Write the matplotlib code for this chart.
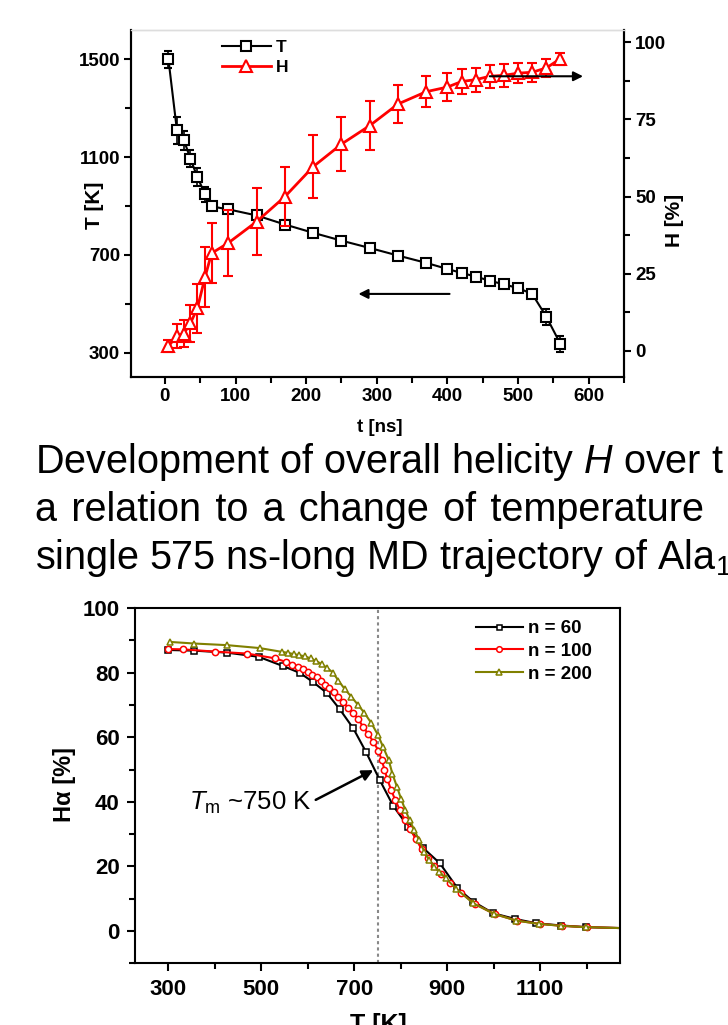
import matplotlib
matplotlib.use('Agg')
import matplotlib.pyplot as plt
from matplotlib.lines import Line2D
from matplotlib.ticker import MultipleLocator

plt.rcParams['font.family'] = ['Liberation Sans', 'DejaVu Sans']
plt.rcParams['font.weight'] = 'bold'
plt.rcParams['mathtext.fontset'] = 'custom'
plt.rcParams['mathtext.rm'] = 'Liberation Sans:weight=normal'
plt.rcParams['mathtext.it'] = 'Liberation Sans:style=italic:weight=normal'
plt.rcParams['mathtext.bf'] = 'Liberation Sans:weight=bold'

# ---- top panel: T and H along one trajectory
t_ns = [5, 17, 27, 36, 46, 57, 66, 90, 130, 170, 210, 250, 290, 330, 370,
        400, 420, 440, 460, 480, 500, 520, 540, 560]
temp_K = [1500, 1210, 1169, 1094, 1018, 947, 898, 886, 861, 824, 790, 758, 728,
          697, 667, 642, 626, 611, 594, 579, 564, 540, 447, 335]
temp_err = [36, 56, 39, 34, 36, 31, 16, 12, 12, 20, 10, 10, 10, 10, 10,
            10, 10, 10, 10, 10, 10, 10, 33, 31]
helix = [1.5, 4.8, 5.6, 8.9, 13.8, 24, 31.6, 35, 41.9, 50, 59.7, 67, 73, 80,
         84, 85.5, 87.3, 87.9, 89, 89.3, 90, 90.3, 91.7, 94.7]
helix_err = [2, 3.8, 4.4, 6, 8, 9.7, 9.7, 10.7, 11, 9.7, 10.3, 8.8, 7.9, 6.3,
             5, 4.5, 4.1, 3.9, 3.8, 3.8, 3.2, 3.1, 3, 1.9]

# ---- bottom panel: H alpha vs temperature
T60 = [300, 355, 425, 494, 547, 583, 611, 641, 669, 698, 725, 755, 784, 816,
       849, 884, 922, 956, 999, 1047, 1092, 1146, 1198, 1300]
H60 = [87.0, 86.8, 86.2, 84.9, 82.0, 79.9, 77.1, 73.7, 68.6, 62.7, 55.5, 46.7,
       38.7, 32.3, 25.6, 21.0, 13.3, 9.1, 5.5, 3.7, 2.4, 1.7, 1.2, 0.8]

T100 = [300, 331, 400, 469, 530, 553, 567, 578, 589, 600, 610, 619, 628, 637,
        646, 656, 666, 676, 687, 698, 709, 719, 730, 741, 752, 759, 765, 771,
        779, 788, 798, 809, 820, 832, 845, 858, 872, 887, 905, 930, 960, 1003,
        1050, 1100, 1147, 1200, 1300]
H100 = [87.3, 87.2, 86.5, 85.9, 84.4, 83.3, 82.5, 81.8, 81.0, 80.2, 79.4, 78.5,
        77.4, 76.3, 75.2, 74.0, 72.6, 70.9, 69.1, 67.4, 65.5, 63.2, 61.0, 58.6,
        55.8, 53.0, 50.0, 47.0, 43.8, 40.6, 37.5, 34.4, 31.6, 28.6, 25.4, 22.6,
        20.0, 17.6, 15.0, 11.8, 8.3, 5.2, 3.2, 2.2, 1.6, 1.2, 0.8]

T200 = [303, 356, 426, 496, 545, 558, 570, 582, 594, 606, 618, 630, 642, 654,
        666, 680, 694, 708, 722, 737, 751, 762, 774, 782, 792, 801, 810, 819,
        829, 839, 851, 861, 872, 883, 897, 920, 956, 1001, 1049, 1098, 1145,
        1198, 1300]
H200 = [89.5, 89.0, 88.5, 87.6, 86.4, 86.1, 85.7, 85.4, 85.0, 84.4, 83.6, 82.6,
        81.4, 80.0, 77.5, 74.8, 72.5, 70.0, 67.5, 64.3, 60.7, 57.0, 53.0, 48.7,
        44.6, 40.8, 37.4, 34.4, 31.3, 28.3, 24.5, 22.0, 19.9, 18.4, 16.3, 13.0,
        8.6, 5.3, 3.2, 2.2, 1.6, 1.2, 0.8]

W, HH = 728, 1025
def fx(x):
    return x / W
def fy(y):
    return 1 - y / HH

fig = plt.figure(figsize=(7.28, 10.25), dpi=100)

# ================= top chart
ax1 = fig.add_axes([fx(131), fy(377), (624 - 131) / W, (377 - 30) / HH])
ax2 = ax1.twinx()

ax1.errorbar(t_ns, temp_K, yerr=temp_err, color='k', marker='s', ms=6.5,
             mfc='white', mec='k', mew=1.5, lw=1.5, capsize=3,
             elinewidth=1.2, capthick=1.2)
ax2.errorbar(t_ns, helix, yerr=helix_err, color='red', marker='^', ms=8.5,
             mfc='white', mec='red', mew=1.5, lw=2, capsize=3.5,
             elinewidth=1.5, capthick=1.5)

ax1.set_xlim(-48, 650)
ax1.set_ylim(200, 1620)
ax2.set_ylim(-8.5, 104)
ax1.xaxis.set_major_locator(MultipleLocator(100))
ax1.xaxis.set_minor_locator(MultipleLocator(50))
ax1.set_yticks([300, 700, 1100, 1500])
ax1.set_yticks([500, 900, 1300], minor=True)
ax2.yaxis.set_major_locator(MultipleLocator(25))
ax2.yaxis.set_minor_locator(MultipleLocator(12.5))

for ax in (ax1, ax2):
    ax.tick_params(which='major', direction='out', length=5, width=1.5, labelsize=13.5, pad=3)
    ax.tick_params(which='minor', direction='out', length=4, width=1.5)
    for s in ax.spines.values():
        s.set_linewidth(1.5)
    ax.spines['top'].set_color('#dddddd')
    ax.spines['top'].set_linewidth(1)

handles = [Line2D([], [], color='k', marker='s', ms=6.5, mfc='white', mew=1.5, lw=1.5),
           Line2D([], [], color='red', marker='^', ms=8.5, mfc='white', mew=1.5, lw=2)]
ax2.legend(handles, ['T', 'H'], loc='upper left', bbox_to_anchor=(fx(222), fy(40)),
           bbox_transform=fig.transFigure, frameon=False, fontsize=12.5,
           handlelength=2.8, handletextpad=0.3, labelspacing=0.25,
           borderpad=0, borderaxespad=0)

arrow_kw = dict(arrowstyle='-|>', color='k', lw=1.5, mutation_scale=14, shrinkA=0, shrinkB=0)
ax1.annotate('', xy=(274, 540), xytext=(403, 540), arrowprops=arrow_kw)
ax2.annotate('', xy=(592, 89), xytext=(460, 89), arrowprops=arrow_kw)

fig.text(fx(95), fy(205), 'T [K]', rotation=90, ha='center', va='center', fontsize=15)
fig.text(fx(674), fy(220), 'H [%]', rotation=90, ha='center', va='center', fontsize=15)
fig.text(fx(380), fy(428), 't [ns]', ha='center', va='center', fontsize=13.5)

# ================= caption
cap_kw = dict(fontsize=28.5, fontweight='normal', ha='left', va='baseline')
fig.text(fx(35), fy(473), 'Development of overall helicity $H$ over t', **cap_kw)
fig.text(fx(35), fy(521), 'a \u200arelation \u200ato \u200aa \u200achange \u200aof \u200atemperature', **cap_kw)
fig.text(fx(35), fy(569), r'single 575 ns-long MD trajectory of Ala$_{\mathregular{1}}$', **cap_kw)

# ================= bottom chart
ax3 = fig.add_axes([fx(135), fy(963.3), (620 - 135) / W, (963.3 - 608) / HH])
ax3.axvline(750, color='#888888', ls=(0, (1.5, 1.5)), lw=1.5, zorder=1)
ax3.plot(T60, H60, color='k', marker='s', ms=4, mfc='white', mec='k', mew=1.1, lw=1.5, label='n = 60')
ax3.plot(T100, H100, color='red', marker='o', ms=4.5, mfc='white', mec='red', mew=1.1, lw=1.5, label='n = 100')
ax3.plot(T200, H200, color='#808000', marker='^', ms=5, mfc='white', mec='#808000', mew=1.1, lw=1.5, label='n = 200')

ax3.set_xlim(228, 1272)
ax3.set_ylim(-10, 100)
ax3.set_xticks([300, 500, 700, 900, 1100])
ax3.set_xticks([400, 600, 800, 1000, 1200], minor=True)
ax3.yaxis.set_major_locator(MultipleLocator(20))
ax3.yaxis.set_minor_locator(MultipleLocator(10))
ax3.tick_params(which='major', direction='out', length=6, width=1.5, labelsize=16, pad=5)
ax3.tick_params(which='minor', direction='out', length=4, width=1.5)
for s in ax3.spines.values():
    s.set_linewidth(1.5)

ax3.legend(loc='upper left', bbox_to_anchor=(fx(476), fy(620)), bbox_transform=fig.transFigure,
           frameon=False, fontsize=13.5, handlelength=2.5, handletextpad=0.3,
           labelspacing=0.3, borderpad=0, borderaxespad=0, markerscale=0.9)

ax3.annotate('', xy=(741, 49.8), xytext=(617, 40.6),
             arrowprops=dict(arrowstyle='-|>', color='k', lw=1.8, mutation_scale=16, shrinkA=0, shrinkB=0))
ax3.text(608, 37.5, r'$T_{\mathrm{m}}$ ~750 K', ha='right', va='baseline', fontsize=18.5, fontweight='normal')

fig.text(fx(65), fy(785), 'Hα [%]', rotation=90, ha='center', va='center', fontsize=17)
fig.text(fx(378), fy(1013), 'T [K]', ha='center', va='top', fontsize=18)

fig.savefig('out.png', dpi=100)
